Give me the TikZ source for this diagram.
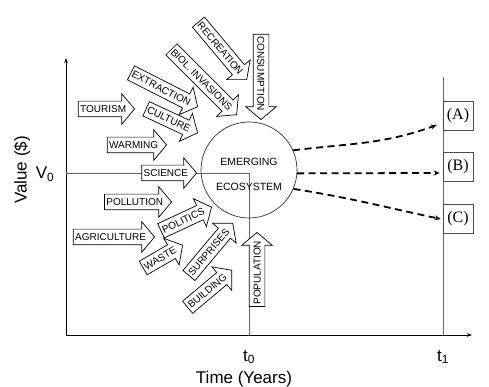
\documentclass[tikz,border=0pt]{standalone}
\usepackage{fontspec}
\setmainfont{Liberation Sans}
\newfontfamily\outcomefont{Liberation Serif}
\usetikzlibrary{arrows.meta, shapes.arrows}

\begin{document}
\begin{tikzpicture}[x=1pt, y=1pt,
  blockarrow/.style={single arrow, draw=black, fill=white, line width=0.7pt,
    single arrow head extend=7.5pt, single arrow tip angle=100,
    inner xsep=1.5pt, inner ysep=3.9pt, text height=7.2pt, text depth=0pt, anchor=tip},
  outcome/.style={draw=black!70, line width=0.5pt, minimum width=30pt, minimum height=29pt,
    inner sep=0pt, font=\outcomefont\fontsize{16}{18}\selectfont},
  trend/.style={-{Stealth[length=6pt, width=5pt]}, line width=1.8pt, dash pattern=on 7pt off 4.5pt},
  guide/.style={black!60, line width=0.5pt},
  biglabel/.style={font=\fontsize{17}{20}\selectfont}]

  \useasboundingbox (0,0) rectangle (489,387);

  % Axes
  \coordinate (origin) at (66,52);
  \coordinate (ytop) at (66,329);
  \coordinate (xend) at (472,52);
  \draw[-{Stealth[length=5pt, width=3.5pt]}, line width=0.9pt] (origin) -- (ytop);
  \draw[-{Stealth[length=5pt, width=3.5pt]}, line width=0.9pt] (origin) -- (xend);

  % Reference lines V0, t0 and t1
  \coordinate (vzero) at (66,214);
  \coordinate (tzero) at (249,52);
  \coordinate (tone) at (443,52);
  \coordinate (tonetop) at (443,310);
  \draw[guide] (vzero) -| (tzero);
  \draw[guide] (tone) -- (tonetop);

  % Axis labels
  \node[biglabel] (vlabel) at (45,213) {V\textsubscript{0}};
  \node[biglabel, rotate=90] (ylabel) at (22,217) {Value (\$)};
  \node[biglabel] (tzerolabel) at (249,30) {t\textsubscript{0}};
  \node[biglabel] (tonelabel) at (443,30) {t\textsubscript{1}};
  \node[biglabel] (xlabel) at (244,8) {Time (Years)};

  % Emerging ecosystem
  \node[circle, draw=black!80, line width=0.7pt, minimum size=96pt, inner sep=0pt] (eco) at (249,217) {};
  \node[font=\fontsize{10.5}{12}\selectfont] (emerging) at (249,225) {EMERGING};
  \node[font=\fontsize{10.5}{12}\selectfont] (ecosystem) at (249,200) {ECOSYSTEM};

  % Drivers
  \node[blockarrow] (tourism) at (135,278) {TOURISM};
  \node[blockarrow] (warming) at (167,242) {WARMING};
  \node[blockarrow] (science) at (197,214) {SCIENCE};
  \node[blockarrow] (pollution) at (172,185) {POLLUTION};
  \node[blockarrow] (agriculture) at (155,150) {AGRICULTURE};
  \node[blockarrow, rotate=-27] (extraction) at (198,280) {EXTRACTION};
  \node[blockarrow, rotate=-25] (culture) at (198,254) {CULTURE};
  \node[blockarrow, rotate=-45] (invasions) at (237,272) {BIOL. INVASIONS};
  \node[blockarrow, rotate=-50] (recreation) at (247,307) {RECREATION};
  \node[blockarrow, rotate=-90] (consumption) at (261,267) {CONSUMPTION};
  \node[blockarrow, rotate=25] (politics) at (212,180) {POLITICS};
  \node[blockarrow, rotate=30] (waste) at (183,142) {WASTE};
  \node[blockarrow, rotate=50] (surprises) at (233,164) {SURPRISES};
  \node[blockarrow, rotate=40] (building) at (232,117) {BUILDING};
  \node[blockarrow, rotate=90] (population) at (257,155) {POPULATION};

  % Outcomes at t1
  \node[outcome] (A) at (458,271) {(A)};
  \node[outcome] (B) at (458,220) {(B)};
  \node[outcome] (C) at (458,168) {(C)};

  % Trajectories
  \draw[trend] (eco.24) to[out=7, in=200] ([xshift=-6pt, yshift=-9pt]A.west);
  \draw[trend] (eco.-4) -- ([xshift=-3pt, yshift=-6pt]B.west);
  \draw[trend] (eco.-23) to[out=-9, in=168] ([xshift=-2pt]C.west);

\end{tikzpicture}
\end{document}
